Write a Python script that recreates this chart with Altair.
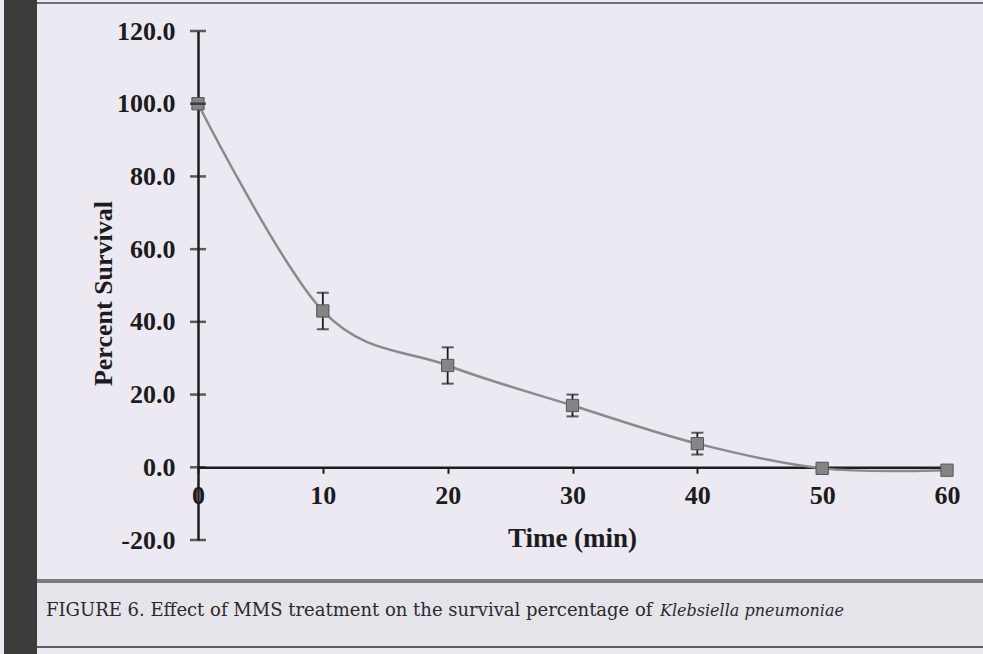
import altair as alt
import pandas as pd

# ---- data ----
time_min = [0, 10, 20, 30, 40, 50, 60]
survival = [100.0, 43.0, 28.0, 17.0, 6.5, -0.3, -0.8]
error = [0.0, 5.0, 5.0, 3.0, 3.0, 0.0, 0.0]
x_ticks = [0, 10, 20, 30, 40, 50, 60]
y_ticks = [-20, 0, 20, 40, 60, 80, 100, 120]
x_title = "Time (min)"
y_title = "Percent Survival"
caption_plain = "FIGURE 6. Effect of MMS treatment on the survival percentage of "
caption_italic = "Klebsiella pneumoniae"

# ---- layout ----
W, H = 749, 509
LEFT, TOP, RIGHT, BOTTOM = 198, 31, 36, 114
Y_MIN, Y_MAX = -20, 120
X_MIN, X_MAX = 0, 60
zero_pos = H * (Y_MAX - 0) / (Y_MAX - Y_MIN)

BG = "#ece9f2"
INK = "#1c1c1c"
SERIF = "Liberation Serif"

df = pd.DataFrame({"t": time_min, "s": survival, "e": error})
df["lo"] = df["s"] - df["e"]
df["hi"] = df["s"] + df["e"]
eb = df[df["e"] > 0]
ticks_df = pd.DataFrame({"v": y_ticks})
one = pd.DataFrame({"k": [0]})

xscale = alt.Scale(domain=[X_MIN, X_MAX], nice=False, zero=False)
yscale = alt.Scale(domain=[Y_MIN, Y_MAX], nice=False, zero=False)

x_axis = alt.Axis(
    values=x_ticks, format="d", title=x_title, offset=zero_pos - H,
    grid=False, domainColor=INK, domainWidth=2.5, tickColor=INK, tickWidth=2,
    tickSize=6, labelFont=SERIF, labelFontWeight="bold", labelFontSize=26,
    labelColor=INK, labelPadding=9, labelFlush=False,
    titleFont=SERIF, titleFontWeight="bold", titleFontSize=27, titleColor=INK,
    titleX=374, titleY=71, titleBaseline="middle", titleAlign="center",
)
y_axis = alt.Axis(
    values=y_ticks, format=".1f", labelExpr="replace(datum.label, '\u2212', '-')",
    title=y_title, grid=False, ticks=False,
    domainColor=INK, domainWidth=2.5, labelFont=SERIF, labelFontWeight="bold",
    labelFontSize=26, labelColor=INK, labelPadding=23,
    titleFont=SERIF, titleFontWeight="bold", titleFontSize=26, titleColor=INK,
    titleX=-95, titleY=262, titleAngle=270, titleAlign="center",
    titleBaseline="middle",
)

base = alt.Chart(df)

line = base.mark_line(interpolate="cardinal", tension=0, color="#8a8a8a", strokeWidth=2.5).encode(
    x=alt.X("t:Q", scale=xscale, axis=x_axis),
    y=alt.Y("s:Q", scale=yscale, axis=y_axis),
)
err_rule = alt.Chart(eb).mark_rule(color=INK, strokeWidth=1.8).encode(
    x=alt.X("t:Q", scale=xscale), y=alt.Y("lo:Q", scale=yscale), y2="hi:Q"
)
cap_lo = alt.Chart(eb).mark_tick(orient="horizontal", size=12, thickness=2, color=INK).encode(
    x=alt.X("t:Q", scale=xscale), y=alt.Y("lo:Q", scale=yscale)
)
cap_hi = alt.Chart(eb).mark_tick(orient="horizontal", size=12, thickness=2, color=INK).encode(
    x=alt.X("t:Q", scale=xscale), y=alt.Y("hi:Q", scale=yscale)
)
points = base.mark_square(size=150, color="#858585", opacity=1, stroke="#555555", strokeWidth=1).encode(
    x=alt.X("t:Q", scale=xscale), y=alt.Y("s:Q", scale=yscale)
)
y_cross_ticks = alt.Chart(ticks_df).mark_tick(orient="horizontal", size=16, thickness=2.5, color=INK).encode(
    y=alt.Y("v:Q", scale=yscale), x=alt.value(0)
)

# ---- page decorations (scan frame, caption) ----
left_edge = -LEFT
right_edge = W + RIGHT
band = alt.Chart(one).mark_rect(color="#3b3b3b").encode(
    x=alt.value(left_edge + 4), x2=alt.value(left_edge + 37),
    y=alt.value(-TOP), y2=alt.value(H + BOTTOM),
)
cap_bg = alt.Chart(one).mark_rect(color="#e6e4eb").encode(
    x=alt.value(left_edge + 37), x2=alt.value(right_edge),
    y=alt.value(580 - TOP), y2=alt.value(648 - TOP),
)
top_line = alt.Chart(one).mark_rule(color="#6e6e6e", strokeWidth=2).encode(
    x=alt.value(left_edge + 37), x2=alt.value(right_edge), y=alt.value(3 - TOP)
)
sep_line = alt.Chart(one).mark_rule(color="#7c7c7c", strokeWidth=4).encode(
    x=alt.value(left_edge + 37), x2=alt.value(right_edge), y=alt.value(581 - TOP)
)
bot_line = alt.Chart(one).mark_rule(color="#5e5e5e", strokeWidth=2).encode(
    x=alt.value(left_edge + 37), x2=alt.value(right_edge), y=alt.value(647 - TOP)
)
cap1 = alt.Chart(one).mark_text(
    text=caption_plain, font="DejaVu Serif", fontSize=18, color="#2a2a2a",
    align="left", baseline="middle",
).encode(x=alt.value(46 - LEFT), y=alt.value(611 - TOP))
cap2 = alt.Chart(one).mark_text(
    text=caption_italic, font="DejaVu Serif", fontSize=16, fontStyle="italic",
    color="#2a2a2a", align="left", baseline="middle",
).encode(x=alt.value(660 - LEFT), y=alt.value(611 - TOP))

chart = alt.layer(
    band, cap_bg, top_line, sep_line, bot_line, cap1, cap2,
    line, err_rule, cap_lo, cap_hi, points, y_cross_ticks,
).properties(
    width=W, height=H, autosize="none",
    padding={"left": LEFT, "top": TOP, "right": RIGHT, "bottom": BOTTOM},
    background=BG,
).configure_view(stroke=None)

chart.save("out.html", embed_options={"renderer": "svg", "actions": False})
